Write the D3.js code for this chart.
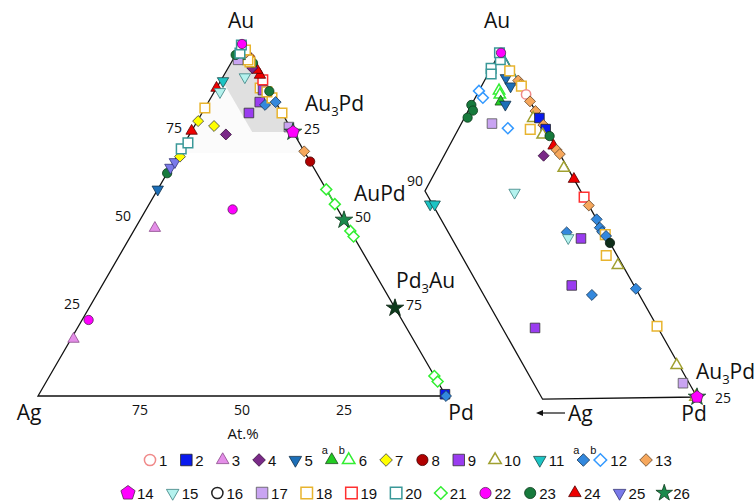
<!DOCTYPE html>
<html>
<head>
<meta charset="utf-8">
<script src="https://cdn.jsdelivr.net/npm/d3@7"></script>
<style>
body { margin: 0; background: #fff; }
svg text { font-family: "Open Sans", sans-serif; fill: #111; }
.legend text { font-family: "Liberation Sans", Arial, sans-serif; }
</style>
</head>
<body>
<svg id="chart" width="754" height="501"></svg>
<script>
// compositions in at.% : [series, Au, Pd]  (Ag = 100 - Au - Pd)
const fullDiagram = [
  ['3', 16.2, 0.6], ['22', 21.6, 1.6], ['3', 47.7, 4.8], ['22', 53, 21.2],
  ['5', 58.7, 0], ['23', 63.3, 0], ['25', 64.9, 0], ['25', 66.5, 0.3], ['7', 68, 0.8],
  ['20', 70.2, 0], ['20', 71.9, 0.8], ['24', 75.3, 0], ['7', 78.1, 0.2], ['18', 81.8, 0],
  ['7', 76.7, 4.8], ['4', 74.3, 8.9], ['24', 87.5, 0], ['11', 89.5, 0.6], ['15', 86.4, 1.4],
  ['15', 90.6, 5.4], ['9', 80.4, 11.5], ['9', 83.5, 12.6], ['12a', 82.7, 14.3],
  ['18', 84.7, 15], ['12a', 83.5, 16.5], ['18', 80.4, 19.6], ['17', 76.4, 23.3],
  ['18', 87.5, 10.7], ['9', 86.9, 11.7], ['18', 86.4, 12.9], ['23', 86.6, 13.4],
  ['19', 89.8, 10.2], ['24', 91.2, 8.8], ['24', 92.6, 7.4], ['4', 93.2, 5.9],
  ['23', 94.6, 5.4], ['8', 96, 4], ['18', 94.9, 4.5], ['18', 95.5, 3.7], ['13', 97.5, 2.2],
  ['18', 98.3, 1.7], ['6a', 96.5, 1.2], ['17', 95.5, 1.3], ['23', 96.9, 0],
  ['20', 97.4, 0.8], ['20', 99.7, 0], ['22', 100, 0],
  ['13', 69.5, 30.5], ['8', 66.6, 33.4], ['21', 58.7, 41.3], ['21', 54.5, 45.5],
  ['21', 46.9, 53.1], ['21', 45.3, 54.7], ['21', 5.7, 94.3], ['21', 4.1, 95.9],
  ['2', 0.5, 99.5], ['12a', 0, 100],
  ['26', 75, 25], ['14', 75, 25], ['26', 50, 50], ['26d', 25, 75]
];

// Au-rich corner, enlarged
const zoomDiagram = [
  ['11', 89.05, 0.8], ['11', 89.04, 1.1], ['15', 89.8, 5.9],
  ['23', 96.1, 0], ['23', 95.7, 0.3], ['23', 95.2, 0.2],
  ['12b', 97.1, 0], ['12b', 96.6, 0.5], ['12b', 94.4, 3.2], ['17', 94.75, 2.0],
  ['6b', 97.1, 1.3], ['6b', 96.8, 1.5], ['6a', 96.3, 1.8], ['5', 96.1, 2.2],
  ['5', 98.0, 1.3], ['5', 97.4, 1.9],
  ['20', 98.7, 0], ['20', 98.3, 0.2], ['20', 99.3, 0.3], ['20', 99.8, 0], ['22', 99.8, 0.1],
  ['18', 98.5, 1.3], ['13', 97.8, 2.2], ['13', 97.5, 2.5], ['18', 97.4, 2.6], ['1', 96.8, 3.2],
  ['13', 96.3, 3.7], ['13', 95.6, 4.4], ['10', 95.1, 4.5], ['2', 95.1, 4.9],
  ['13', 94.6, 5.4], ['2', 94.3, 5.7], ['10', 93.9, 5.7], ['23', 93.8, 6.2], ['18', 94.3, 4.7],
  ['4', 92.4, 6.5], ['24', 93.1, 6.8], ['13', 92.8, 7.15], ['13', 92.5, 7.5], ['10', 91.5, 8.25],
  ['24', 90.7, 9.3], ['19', 89.4, 10.6], ['13', 88.8, 11.2],
  ['12a', 87.8, 12.2], ['12a', 87.2, 12.7], ['12a', 86.9, 13.0], ['18', 86.7, 13.3],
  ['12a', 86.6, 13.4], ['23d', 86.1, 13.9],
  ['12a', 86.9, 10.7], ['15', 86.5, 11.0], ['9', 86.45, 11.85],
  ['18', 85.2, 14.1], ['10', 84.5, 15.2], ['9', 83.1, 12.9], ['12a', 82.4, 14.55],
  ['12a', 82.8, 17.2], ['9', 80.1, 12.0], ['18', 80.1, 19.9],
  ['10', 77.3, 22.55], ['17', 76.0, 23.6], ['10', 75, 24.9], ['26', 75, 25], ['14', 75, 25]
];

const phases = [['Au', '3', 'Pd', 75, 25], ['AuPd', '', '', 50, 50], ['Pd', '3', 'Au', 25, 75]];
const auTicks = [75, 50, 25];
const pdTicks = [25, 50, 75];
const agTicks = [75, 50, 25];
const legendRow1 = ['1', '2', '3', '4', '5', '6', '7', '8', '9', '10', '11', '12', '13'];
const legendRow2 = ['14', '15', '16', '17', '18', '19', '20', '21', '22', '23', '24', '25', '26'];

const styles = {
  '1':  { shape: 'circle',   fill: '#fff',    stroke: '#f08a8a', open: true },
  '2':  { shape: 'square',   fill: '#0a1aee', stroke: '#222' },
  '3':  { shape: 'triangle', fill: '#e48ee8', stroke: '#8a4a8a' },
  '4':  { shape: 'diamond',  fill: '#7a2a88', stroke: '#3a1040' },
  '5':  { shape: 'down',     fill: '#1d6fb8', stroke: '#12304a' },
  '6a': { shape: 'triangle', fill: '#22cc22', stroke: '#1a4a1a' },
  '6b': { shape: 'triangle', fill: '#fff',    stroke: '#33ee33', open: true },
  '7':  { shape: 'diamond',  fill: '#ffff00', stroke: '#444' },
  '8':  { shape: 'circle',   fill: '#b00000', stroke: '#400' },
  '9':  { shape: 'square',   fill: '#9a3cf0', stroke: '#333' },
  '10': { shape: 'triangle', fill: '#fff',    stroke: '#a0a030', open: true },
  '11': { shape: 'down',     fill: '#1cc4c4', stroke: '#1a4a4a' },
  '12a':{ shape: 'diamond',  fill: '#3388dd', stroke: '#1a3a5a' },
  '12b':{ shape: 'diamond',  fill: '#fff',    stroke: '#3399ff', open: true },
  '13': { shape: 'diamond',  fill: '#f6a75c', stroke: '#6a4a2a' },
  '14': { shape: 'pentagon', fill: '#ff00ff', stroke: '#552255' },
  '15': { shape: 'down',     fill: '#b4f2ee', stroke: '#3a8080' },
  '16': { shape: 'circle',   fill: '#fff',    stroke: '#222', open: true },
  '17': { shape: 'square',   fill: '#c9a4f2', stroke: '#555' },
  '18': { shape: 'square',   fill: '#fff',    stroke: '#e8b42e', open: true },
  '19': { shape: 'square',   fill: '#fff',    stroke: '#ff3030', open: true },
  '20': { shape: 'square',   fill: '#fff',    stroke: '#3a9898', open: true },
  '21': { shape: 'diamond',  fill: '#fff',    stroke: '#33ee33', open: true },
  '22': { shape: 'circle',   fill: '#ff00ff', stroke: '#552255' },
  '23': { shape: 'circle',   fill: '#177a3c', stroke: '#0d3a1c' },
  '23d':{ shape: 'circle',   fill: '#0f2e1a', stroke: '#0a1a10' },
  '24': { shape: 'triangle', fill: '#ee0000', stroke: '#500' },
  '25': { shape: 'down',     fill: '#7a7aea', stroke: '#333377' },
  '26': { shape: 'star',     fill: '#1b8a4c', stroke: '#0d3a1c' },
  '26d':{ shape: 'star',     fill: '#0d3a1c', stroke: '#06200e' }
};

const sizes = { circle: 68, square: 92, triangle: 56, down: 56, diamond: 60, star: 95, pentagon: 6.5 };
const legendScale = { circle: 1.2, square: 1.2, triangle: 1.1, down: 1.1, diamond: 1.15, star: 0.95, pentagon: 1.15 };

const svg = d3.select('#chart');

// ternary -> pixel through linear scales anchored on the pure Au corner
function ternaryScale(auPx, agEnd, pdEnd) {
  const agX = d3.scaleLinear().domain([0, agEnd[0]]).range([0, agEnd[1][0] - auPx[0]]);
  const agY = d3.scaleLinear().domain([0, agEnd[0]]).range([0, agEnd[1][1] - auPx[1]]);
  const pdX = d3.scaleLinear().domain([0, pdEnd[0]]).range([0, pdEnd[1][0] - auPx[0]]);
  const pdY = d3.scaleLinear().domain([0, pdEnd[0]]).range([0, pdEnd[1][1] - auPx[1]]);
  return function (au, pd) {
    const ag = 100 - au - pd;
    return [auPx[0] + agX(ag) + pdX(pd), auPx[1] + agY(ag) + pdY(pd)];
  };
}

const big = ternaryScale([242, 44], [100, [38, 396]], [100, [446, 396]]);
const small = ternaryScale([501, 50], [10, [425, 191]], [25, [697, 397]]);

function symbolPath(shape, k) {
  k = k || 1;
  if (shape === 'pentagon') {
    const r = sizes.pentagon * k;
    return d3.line()(d3.range(5).map(function (i) {
      const a = -Math.PI / 2 + i * 2 * Math.PI / 5;
      return [r * Math.cos(a), r * Math.sin(a)];
    })) + 'Z';
  }
  const types = { circle: d3.symbolCircle, square: d3.symbolSquare, triangle: d3.symbolTriangle,
    down: d3.symbolTriangle, diamond: d3.symbolSquare, star: d3.symbolStar };
  return d3.symbol(types[shape], sizes[shape] * k * k)();
}
function rotation(shape) {
  return shape === 'down' ? 180 : shape === 'diamond' ? 45 : 0;
}
function drawMarks(g, data, proj) {
  g.selectAll('path.mark')
    .data(data)
    .enter()
    .append('path')
    .attr('class', 'mark')
    .attr('d', function (d) { return symbolPath(styles[d[0]].shape); })
    .attr('transform', function (d) {
      const p = proj(d[1], d[2]);
      return 'translate(' + p[0] + ',' + p[1] + ') rotate(' + rotation(styles[d[0]].shape) + ')';
    })
    .attr('fill', function (d) { return styles[d[0]].fill; })
    .attr('stroke', function (d) { return styles[d[0]].stroke; })
    .attr('stroke-width', function (d) { return styles[d[0]].open ? 1.5 : 0.8; });
}
const line = d3.line();

//Left: full Au-Ag-Pd triangle
const gL = svg.append('g');
gL.append('path')
  .attr('d', line([[100, 0], [69, 0], [69, 31]].map(function (d) { return big(d[0], d[1]); })) + 'Z')
  .attr('fill', '#fbfbfb');
gL.append('path')
  .attr('d', line([[100, 0], [90, 0], [75, 15], [75, 25]].map(function (d) { return big(d[0], d[1]); })) + 'Z')
  .attr('fill', '#e0e0e0');
gL.append('path')
  .attr('d', line([[100, 0], [0, 0], [0, 100]].map(function (d) { return big(d[0], d[1]); })) + 'Z')
  .attr('fill', 'none')
  .attr('stroke', '#111')
  .attr('stroke-width', 1.3);
// tie segments between the open green diamonds
[[58.7, 41.3, 54.5, 45.5], [46.9, 53.1, 45.3, 54.7], [5.7, 94.3, 4.1, 95.9]].forEach(function (s) {
  gL.append('path')
    .attr('d', line([big(s[0], s[1]), big(s[2], s[3])]))
    .attr('stroke', '#33dd33')
    .attr('stroke-width', 1.6);
});

gL.selectAll('text.au')
  .data(auTicks).enter().append('text')
  .attr('x', function (d) { return big(d, 0)[0] - 9; })
  .attr('y', function (d) { return big(d, 0)[1] + 1; })
  .attr('text-anchor', 'end')
  .attr('font-size', 14)
  .text(function (d) { return d; });
gL.selectAll('text.pd')
  .data(pdTicks).enter().append('text')
  .attr('x', function (d) { return big(100 - d, d)[0] + 11; })
  .attr('y', function (d) { return big(100 - d, d)[1] + 2; })
  .attr('font-size', 14)
  .text(function (d) { return d; });
gL.selectAll('text.ag')
  .data(agTicks).enter().append('text')
  .attr('x', function (d) { return big(0, 100 - d)[0]; })
  .attr('y', function (d) { return big(0, 100 - d)[1] + 19; })
  .attr('text-anchor', 'middle')
  .attr('font-size', 14)
  .text(function (d) { return d; });
gL.append('text').attr('x', 243).attr('y', 439).attr('text-anchor', 'middle')
  .attr('font-size', 15).text('At.%');

const phaseOffsets = [[12, -21], [10, -19], [1, -20]];
phases.forEach(function (ph, i) {
  const p = big(ph[3], ph[4]);
  const t = gL.append('text')
    .attr('x', p[0] + phaseOffsets[i][0])
    .attr('y', p[1] + phaseOffsets[i][1])
    .attr('font-size', 21);
  t.append('tspan').text(ph[0]);
  if (ph[1]) {
    t.append('tspan').attr('font-size', 13).attr('dy', 5).text(ph[1]);
    t.append('tspan').attr('dy', -5).text(ph[2]);
  }
});

gL.append('text').attr('x', 241).attr('y', 28).attr('text-anchor', 'middle').attr('font-size', 21).text('Au');
gL.append('text').attr('x', 29).attr('y', 420).attr('text-anchor', 'middle').attr('font-size', 21).text('Ag');
gL.append('text').attr('x', 461).attr('y', 420).attr('text-anchor', 'middle').attr('font-size', 21).text('Pd');

drawMarks(gL, fullDiagram, big);

//Right: enlarged Au corner (Au >= 75, Ag <= 10)
const gR = svg.append('g');
gR.append('path')
  .attr('d', line([[100, 0], [90, 0], [75, 15], [75, 25]].map(function (d) { return small(d[0], d[1]); })) + 'Z')
  .attr('fill', 'none')
  .attr('stroke', '#111')
  .attr('stroke-width', 1.3);
gR.append('path')
  .attr('d', line([small(100, 0), small(98.3, 0.2)]))
  .attr('stroke', '#3a9898').attr('stroke-width', 1.6);
gR.append('path')
  .attr('d', line([small(100, 0), small(97.6, 2.4)]))
  .attr('stroke', '#3a9898').attr('stroke-width', 1.6);

const v90 = small(90, 0);
gR.append('text').attr('x', v90[0] - 2).attr('y', v90[1] - 5).attr('text-anchor', 'end')
  .attr('font-size', 14).text('90');
const v25 = small(75, 25);
gR.append('text').attr('x', v25[0] + 18).attr('y', v25[1] + 6).attr('font-size', 14).text('25');
const tR = gR.append('text').attr('x', v25[0] - 1).attr('y', v25[1] - 18).attr('font-size', 21);
tR.append('tspan').text('Au');
tR.append('tspan').attr('font-size', 13).attr('dy', 5).text('3');
tR.append('tspan').attr('dy', -5).text('Pd');

gR.append('text').attr('x', 497).attr('y', 28).attr('text-anchor', 'middle').attr('font-size', 21).text('Au');
gR.append('text').attr('x', 694).attr('y', 421).attr('text-anchor', 'middle').attr('font-size', 21).text('Pd');
gR.append('text').attr('x', 568).attr('y', 421).attr('font-size', 21).text('Ag');
gR.append('path')
  .attr('d', line([[540, 413], [565, 413]]))
  .attr('stroke', '#111').attr('stroke-width', 1.2);
gR.append('path')
  .attr('d', line([[536, 413], [543, 410], [543, 416]]) + 'Z')
  .attr('fill', '#111');

drawMarks(gR, zoomDiagram, small);

//Legend
const gLeg = svg.append('g').attr('class', 'legend');
function legendMark(x, y, key) {
  const st = styles[key];
  gLeg.append('path')
    .attr('d', symbolPath(st.shape, legendScale[st.shape]))
    .attr('transform', 'translate(' + x + ',' + y + ') rotate(' + rotation(st.shape) + ')')
    .attr('fill', st.fill)
    .attr('stroke', st.stroke)
    .attr('stroke-width', st.open ? 1.5 : 0.8);
}
function legendRow(keys, x0, y) {
  let x = x0;
  keys.forEach(function (k) {
    let tx;
    if (styles[k]) {
      legendMark(x + 6, y, k);
      tx = x + 15;
    } else {
      gLeg.append('text').attr('x', x - 4).attr('y', y - 6).attr('font-size', 11).text('a');
      legendMark(x + 6, y, k + 'a');
      gLeg.append('text').attr('x', x + 13).attr('y', y - 6).attr('font-size', 11).text('b');
      legendMark(x + 23, y, k + 'b');
      tx = x + 33;
    }
    const t = gLeg.append('text').attr('x', tx).attr('y', y + 5.5).attr('font-size', 15).text(k);
    x = tx + t.node().getComputedTextLength() + 13;
  });
}
legendRow(legendRow1, 144, 460);
legendRow(legendRow2, 122, 493);
</script>
</body>
</html>
